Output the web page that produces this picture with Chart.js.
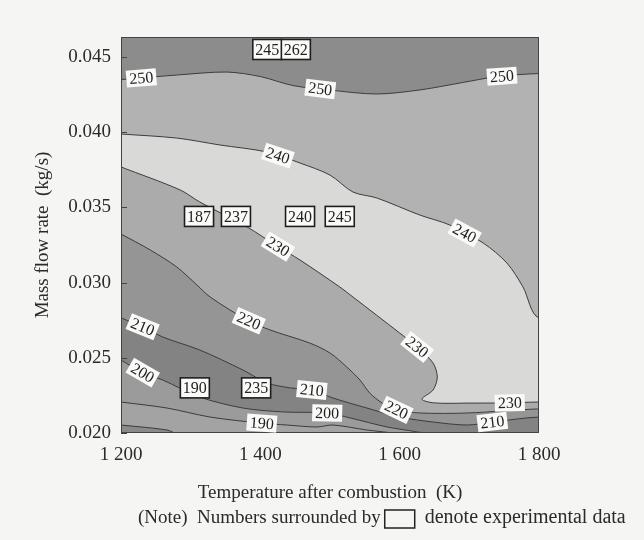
<!DOCTYPE html>
<html lang="en">
<head>
<meta charset="UTF-8">
<title>Mass flow rate vs temperature after combustion</title>
<script src="https://cdn.jsdelivr.net/npm/chart.js"></script>
<style>
  html, body { margin: 0; padding: 0; background: #f5f5f3; }
  #wrap { width: 644px; height: 540px; }
</style>
</head>
<body>
<div id="wrap"><canvas id="chart" width="644" height="540"></canvas></div>
<script>
// axes
const xTicks = [1200, 1400, 1600, 1800];
const xTickLabels = ['1 200', '1 400', '1 600', '1 800'];
const yTicks = [0.020, 0.025, 0.030, 0.035, 0.040, 0.045];
const yTickLabels = ['0.020', '0.025', '0.030', '0.035', '0.040', '0.045'];

// contour levels and their lines, [temperature (K), mass flow rate (kg/s)]
const levels = [250, 240, 230, 220, 210, 200, 190, 180];
const line250 = [[1200, 0.0435], [1280, 0.0438], [1352, 0.0440], [1400, 0.0437], [1447, 0.0431],
  [1500, 0.0428], [1567, 0.04254], [1629, 0.04281], [1690, 0.0433], [1740, 0.0437], [1800, 0.0439]];
const line240 = [[1200, 0.03988], [1280, 0.03961], [1342, 0.03915], [1410, 0.03868], [1457, 0.03795],
  [1500, 0.03715], [1533, 0.03602], [1567, 0.03563], [1629, 0.03449], [1672, 0.03383],
  [1720, 0.03263], [1754, 0.03130], [1777, 0.02971], [1800, 0.02765]];
const line230 = [[1200, 0.03769], [1285, 0.03616], [1313, 0.03536], [1381, 0.03370], [1424, 0.03243],
  [1457, 0.03150], [1514, 0.02971], [1533, 0.02904], [1600, 0.02665], [1625, 0.02572],
  [1648, 0.02465], [1654, 0.02372], [1648, 0.02286], [1632, 0.02225], [1650, 0.02200],
  [1700, 0.02199], [1750, 0.02200], [1800, 0.02206]];
const line220 = [[1200, 0.03323], [1242, 0.03217], [1280, 0.03104], [1309, 0.02984], [1328, 0.02904],
  [1381, 0.02751], [1414, 0.02685], [1471, 0.02598], [1500, 0.02532], [1524, 0.02439],
  [1543, 0.02352], [1557, 0.02266], [1575, 0.02199], [1596, 0.02153], [1629, 0.02133],
  [1697, 0.02133], [1800, 0.02160]];
const line210 = [[1200, 0.02765], [1232, 0.02705], [1260, 0.02638], [1313, 0.02552], [1375, 0.02419],
  [1410, 0.02332], [1443, 0.02300], [1474, 0.02286], [1504, 0.02233], [1553, 0.02166],
  [1600, 0.02106], [1648, 0.02073], [1697, 0.02053], [1733, 0.02073], [1800, 0.02106]];
const line200 = [[1200, 0.02485], [1232, 0.02399], [1260, 0.02352], [1313, 0.02239], [1375, 0.02166],
  [1433, 0.02140], [1496, 0.02133], [1529, 0.02100], [1582, 0.02040], [1625, 0.02007],
  [1658, 0.01970]];
const line190 = [[1200, 0.02206], [1266, 0.02166], [1328, 0.02106], [1400, 0.02066], [1438, 0.02053],
  [1481, 0.02040], [1504, 0.02053], [1553, 0.02020], [1600, 0.01993], [1615, 0.01970]];
const line180 = [[1200, 0.02053], [1266, 0.02020], [1280, 0.01993], [1292, 0.01970]];

// where each contour is labelled
const contourLabelPos = [
  [250, 1230, 0.04314], [250, 1486, 0.04287], [250, 1747, 0.04360],
  [240, 1424, 0.03828], [240, 1694, 0.03336],
  [230, 1424, 0.03230], [230, 1625, 0.02572], [230, 1758, 0.02205],
  [220, 1382, 0.02731], [220, 1596, 0.02160],
  [210, 1231, 0.02705], [210, 1474, 0.02290], [210, 1733, 0.02073],
  [200, 1231, 0.02399], [200, 1496, 0.02133],
  [190, 1402, 0.02060]
];

// experimental data (boxed numbers)
const expValues = ['245', '262', '187', '237', '240', '245', '190', '235'];
const expTemp = [1410, 1451, 1312, 1365, 1457, 1514, 1306, 1394];
const expFlow = [0.0455, 0.0455, 0.0344, 0.0344, 0.0344, 0.0344, 0.0230, 0.0230];

const X_MIN = 1200, X_MAX = 1800, Y_MIN = 0.020, Y_MAX = 0.04633;
const topShade = '#8c8c8c';
const shades = ['#b2b2b2', '#d9d9d7', '#ababab', '#959595', '#838383', '#9b9b9b', '#a3a3a3', '#8a8a8a'];
const lines = [line250, line240, line230, line220, line210, line200, line190, line180];
const FONT = '"Liberation Serif", "Times New Roman", serif';

// region under a contour, closed outside the plot area
function regionBelow(pts) {
  const out = pts.map(p => ({x: p[0], y: p[1]}));
  const first = pts[0], last = pts[pts.length - 1];
  if (last[0] >= X_MAX) out.push({x: X_MAX + 100, y: last[1]});
  out.push({x: out[out.length - 1].x, y: Y_MIN - 0.01});
  out.push({x: X_MIN - 100, y: Y_MIN - 0.01});
  out.push({x: X_MIN - 100, y: first[1]});
  return out;
}

const datasets = levels.map((lev, i) => ({
  label: String(lev),
  data: regionBelow(lines[i]),
  order: levels.length - i,
  fill: 'shape',
  backgroundColor: shades[i],
  borderColor: '#3c3c3c',
  borderWidth: 1,
  pointRadius: 0,
  tension: 0.3
}));

const overlay = {
  id: 'overlay',
  beforeDatasetsDraw(chart) {
    const {ctx, chartArea: a} = chart;
    ctx.save();
    ctx.fillStyle = topShade;
    ctx.fillRect(a.left, a.top, a.right - a.left, a.bottom - a.top);
    ctx.restore();
  },
  afterDatasetsDraw(chart) {
    const {ctx, chartArea: a, scales: {x, y}} = chart;
    ctx.save();
    // frame and inner ticks
    ctx.strokeStyle = '#444';
    ctx.lineWidth = 1;
    ctx.strokeRect(a.left + 0.5, a.top + 0.5, a.right - a.left - 1, a.bottom - a.top - 1);
    ctx.beginPath();
    yTicks.forEach(v => {
      const py = Math.round(y.getPixelForValue(v)) + 0.5;
      ctx.moveTo(a.left, py); ctx.lineTo(a.left + 6, py);
    });
    ctx.stroke();

    // contour labels, snapped onto their line
    ctx.font = '16px ' + FONT;
    ctx.textAlign = 'center';
    ctx.textBaseline = 'middle';
    contourLabelPos.forEach(([lev, tx, ty]) => {
      const pts = lines[levels.indexOf(lev)].map(p => [x.getPixelForValue(p[0]), y.getPixelForValue(p[1])]);
      const px = x.getPixelForValue(tx), py = y.getPixelForValue(ty);
      let best = null;
      for (let i = 0; i < pts.length - 1; i++) {
        const [x1, y1] = pts[i], [x2, y2] = pts[i + 1];
        const dx = x2 - x1, dy = y2 - y1;
        let t = ((px - x1) * dx + (py - y1) * dy) / (dx * dx + dy * dy);
        t = Math.max(0, Math.min(1, t));
        const cx = x1 + t * dx, cy = y1 + t * dy;
        const d = (cx - px) ** 2 + (cy - py) ** 2;
        if (!best || d < best.d) best = {d, cx, cy, ang: Math.atan2(dy, dx)};
      }
      let ang = best.ang;
      if (ang > Math.PI / 2) ang -= Math.PI;
      if (ang < -Math.PI / 2) ang += Math.PI;
      const txt = String(lev);
      const w = ctx.measureText(txt).width + 6, h = 17;
      ctx.save();
      ctx.translate(best.cx, best.cy);
      ctx.rotate(ang);
      ctx.fillStyle = '#fafaf8';
      ctx.fillRect(-w / 2, -h / 2, w, h);
      ctx.fillStyle = '#222';
      ctx.fillText(txt, 0, 1);
      ctx.restore();
    });

    // experimental data boxes
    expValues.forEach((txt, i) => {
      const cx = x.getPixelForValue(expTemp[i]), cy = y.getPixelForValue(expFlow[i]);
      const w = 29, h = 20;
      ctx.fillStyle = '#fafaf8';
      ctx.fillRect(cx - w / 2, cy - h / 2, w, h);
      ctx.strokeStyle = '#1e1e1e';
      ctx.lineWidth = 1.6;
      ctx.strokeRect(cx - w / 2, cy - h / 2, w, h);
      ctx.fillStyle = '#222';
      ctx.fillText(txt, cx, cy + 1);
    });
    ctx.restore();
  },
  afterDraw(chart) {
    const {ctx, chartArea: a} = chart;
    ctx.save();
    ctx.fillStyle = '#2a2a2a';
    ctx.textBaseline = 'middle';
    const t1 = '(Note)  Numbers surrounded by', t2 = 'denote experimental data';
    const yy = a.bottom + 85;
    let xx = a.left + 17;
    ctx.font = '19px ' + FONT;
    ctx.fillText(t1, xx, yy);
    xx += ctx.measureText(t1).width + 4;
    ctx.strokeStyle = '#222';
    ctx.lineWidth = 1.5;
    ctx.strokeRect(xx, yy - 8, 30, 18);
    xx += 30 + 10;
    ctx.font = '20px ' + FONT;
    ctx.fillText(t2, xx, yy);
    ctx.restore();
  }
};

new Chart(document.getElementById('chart'), {
  type: 'line',
  data: {datasets},
  options: {
    responsive: false,
    animation: false,
    devicePixelRatio: 1,
    layout: {padding: {left: 0, right: 105, top: 37, bottom: 0}},
    plugins: {legend: {display: false}, tooltip: {enabled: false}},
    elements: {line: {capBezierPoints: false}},
    scales: {
      x: {
        type: 'linear', min: X_MIN, max: X_MAX,
        afterFit: s => { s.height = 107; },
        afterBuildTicks: s => { s.ticks = xTicks.map(v => ({value: v})); },
        grid: {display: false, drawTicks: false},
        border: {display: false},
        ticks: {
          padding: 11, color: '#2a2a2a', maxRotation: 0,
          font: {family: FONT, size: 19},
          callback: v => xTickLabels[xTicks.indexOf(v)] || ''
        },
        title: {
          display: true, text: 'Temperature after combustion  (K)', color: '#2a2a2a',
          font: {family: FONT, size: 19}, padding: {top: 0, bottom: 36}
        }
      },
      y: {
        type: 'linear', min: Y_MIN, max: Y_MAX,
        afterFit: s => { s.width = 121; },
        afterBuildTicks: s => { s.ticks = yTicks.map(v => ({value: v})); },
        grid: {display: false, drawTicks: false},
        border: {display: false},
        ticks: {
          padding: 10, color: '#2a2a2a',
          font: {family: FONT, size: 19},
          callback: v => yTickLabels[yTicks.indexOf(v)] || ''
        },
        title: {
          display: true, text: 'Mass flow rate  (kg/s)', color: '#2a2a2a',
          font: {family: FONT, size: 19}, padding: {top: 32, bottom: 0}
        }
      }
    }
  },
  plugins: [overlay]
});
</script>
</body>
</html>
